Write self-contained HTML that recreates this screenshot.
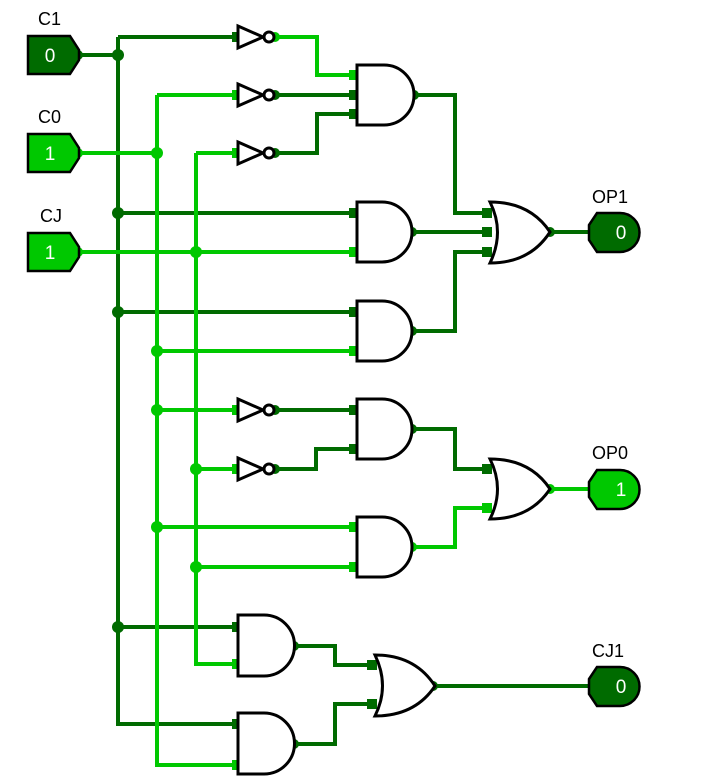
<!DOCTYPE html>
<html><head><meta charset="utf-8"><style>html,body{margin:0;padding:0;background:#fff}svg{display:block}</style></head>
<body>
<svg width="720" height="783" viewBox="0 0 720 783" xmlns="http://www.w3.org/2000/svg" font-family="Liberation Sans, Arial, sans-serif">
<defs>
<style>
.d{stroke:#006b00;fill:none;stroke-width:4}
.b{stroke:#00c800;fill:none;stroke-width:4}
.g{stroke:#000;fill:#fff;stroke-width:3}
.dd{fill:#006b00}.bb{fill:#00c800}
</style>
</defs>
<!-- wires dark (C1 = 0) -->
<path class="d" d="M78,55 H118 M118,37 V724 H238 M118,37 H238 M118,213 H357 M118,312 H357 M118,627 H238"/>
<!-- C0 bright -->
<path class="b" d="M78,153 H157 M157,95 V765 H238 M157,95 H238 M157,351 H357 M157,410 H238 M157,527 H357"/>
<!-- CJ bright -->
<path class="b" d="M78,252 H357 M196,153 V664 H238 M196,153 H238 M196,469 H238 M196,567 H357"/>
<!-- NOT outputs -->
<path class="b" d="M275,37 H317 V75 H357"/>
<path class="d" d="M275,95 H357 M275,153 H317 V114 H357"/>
<path class="d" d="M275,410 H357 M275,469 H316 V449 H357"/>
<!-- AND outputs -->
<path class="d" d="M414,95 H455 V213 H490 M412,232 H490 M412,331 H455 V252 H490 M550,232 H595"/>
<path class="d" d="M412,429 H455 V469 H490"/>
<path class="b" d="M412,547 H455 V508 H490 M550,489 H595"/>
<path class="d" d="M294,646 H335 V665 H375 M294,744 H335 V704 H375 M433,686 H595"/>
<!-- pin stubs -->
<g class="dd">
<rect x="232" y="32" width="10" height="10"/>
<rect x="349" y="90" width="10" height="10"/><rect x="349" y="109" width="10" height="10"/>
<rect x="349" y="208" width="10" height="10"/><rect x="349" y="307" width="10" height="10"/>
<rect x="482" y="208" width="10" height="10"/><rect x="482" y="227" width="10" height="10"/><rect x="482" y="247" width="10" height="10"/>
<rect x="349" y="405" width="10" height="10"/><rect x="349" y="444" width="10" height="10"/>
<rect x="482" y="464" width="10" height="10"/>
<rect x="232" y="622" width="10" height="10"/><rect x="232" y="719" width="10" height="10"/>
<rect x="367" y="660" width="10" height="10"/><rect x="367" y="699" width="10" height="10"/>
<circle cx="118" cy="55" r="6"/><circle cx="118" cy="213" r="6"/><circle cx="118" cy="312" r="6"/><circle cx="118" cy="627" r="6"/>
<circle cx="78" cy="55" r="5"/>
<circle cx="414" cy="95" r="5"/><circle cx="412" cy="232" r="5"/><circle cx="412" cy="331" r="5"/><circle cx="550" cy="232" r="5"/>
<circle cx="275" cy="95" r="5"/><circle cx="275" cy="153" r="5"/><circle cx="275" cy="410" r="5"/><circle cx="275" cy="469" r="5"/>
<circle cx="412" cy="429" r="5"/><circle cx="294" cy="646" r="5"/><circle cx="294" cy="744" r="5"/><circle cx="433" cy="686" r="5"/>
</g>
<g class="bb">
<rect x="349" y="70" width="10" height="10"/>
<rect x="232" y="90" width="10" height="10"/><rect x="232" y="148" width="10" height="10"/>
<rect x="349" y="247" width="10" height="10"/><rect x="349" y="346" width="10" height="10"/>
<rect x="232" y="405" width="10" height="10"/><rect x="232" y="464" width="10" height="10"/>
<rect x="349" y="522" width="10" height="10"/><rect x="349" y="562" width="10" height="10"/>
<rect x="482" y="503" width="10" height="10"/>
<rect x="232" y="659" width="10" height="10"/><rect x="232" y="760" width="10" height="10"/>
<circle cx="157" cy="153" r="6"/><circle cx="196" cy="252" r="6"/><circle cx="157" cy="351" r="6"/><circle cx="157" cy="410" r="6"/>
<circle cx="196" cy="469" r="6"/><circle cx="157" cy="527" r="6"/><circle cx="196" cy="567" r="6"/>
<circle cx="78" cy="153" r="5"/><circle cx="78" cy="252" r="5"/><circle cx="275" cy="37" r="5"/>
<circle cx="412" cy="547" r="5"/><circle cx="550" cy="489" r="5"/>
</g>
<!-- NOT gates -->
<g class="g">
<path d="M238,26 L263,37 L238,48 Z"/><circle cx="269" cy="37" r="5"/>
<path d="M238,84 L263,95 L238,106 Z"/><circle cx="269" cy="95" r="5"/>
<path d="M238,142 L263,153 L238,164 Z"/><circle cx="269" cy="153" r="5"/>
<path d="M238,399 L263,410 L238,421 Z"/><circle cx="269" cy="410" r="5"/>
<path d="M238,458 L263,469 L238,480 Z"/><circle cx="269" cy="469" r="5"/>
<!-- AND gates -->
<path d="M357,65 H384 A30,30 0 0 1 384,125 H357 Z"/>
<path d="M357,202 H382 A30,30 0 0 1 382,262 H357 Z"/>
<path d="M357,301 H382 A30,30 0 0 1 382,361 H357 Z"/>
<path d="M357,399 H382 A30,30 0 0 1 382,459 H357 Z"/>
<path d="M357,517 H382 A30,30 0 0 1 382,577 H357 Z"/>
<path d="M238,615 H264 A30,30 0 0 1 264,676 H238 Z"/>
<path d="M238,713 H264 A30,30 0 0 1 264,774 H238 Z"/>
<!-- OR gates -->
<path d="M490,202 Q530,202 550,232 Q530,263 490,263 Q505,232 490,202 Z"/>
<path d="M490,459 Q530,459 550,489 Q530,519 490,519 Q505,489 490,459 Z"/>
<path d="M375,655 Q415,655 435,686 Q415,716 375,716 Q390,686 375,655 Z"/>
</g>
<!-- input pins -->
<polygon points="28,36 70,36 79,50 79,60 70,74 28,74" fill="#006b00" stroke="#000" stroke-width="2.5"/>
<polygon points="28,134 70,134 79,148 79,158 70,172 28,172" fill="#00c800" stroke="#000" stroke-width="2.5"/>
<polygon points="28,233 70,233 79,247 79,257 70,271 28,271" fill="#00c800" stroke="#000" stroke-width="2.5"/>
<g fill="#fff" font-size="19" text-anchor="middle">
<text x="50" y="62">0</text><text x="50" y="160">1</text><text x="50" y="259">1</text>
</g>
<!-- output pins -->
<path d="M597,213 H620 A19.5,19.5 0 0 1 620,252 H597 L589,240 V225 Z" fill="#006b00" stroke="#000" stroke-width="2.5"/>
<path d="M597,470 H620 A19.5,19.5 0 0 1 620,509 H597 L589,497 V482 Z" fill="#00c800" stroke="#000" stroke-width="2.5"/>
<path d="M597,667 H620 A19.5,19.5 0 0 1 620,706 H597 L589,694 V679 Z" fill="#006b00" stroke="#000" stroke-width="2.5"/>
<g fill="#fff" font-size="19" text-anchor="middle">
<text x="621" y="239">0</text><text x="621" y="496">1</text><text x="621" y="693">0</text>
</g>
<!-- labels -->
<g fill="#000" font-size="18">
<text x="38" y="25">C1</text><text x="38" y="123">C0</text><text x="40" y="222">CJ</text>
<text x="592" y="203">OP1</text><text x="592" y="459">OP0</text><text x="592" y="657">CJ1</text>
</g>
</svg>
</body></html>
